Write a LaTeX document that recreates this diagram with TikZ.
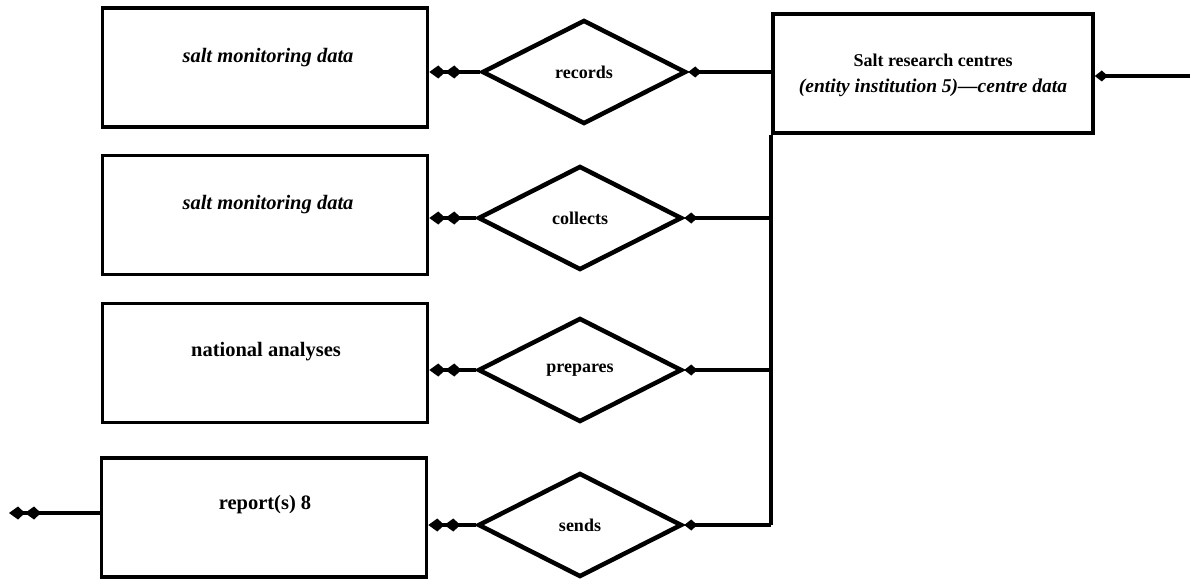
\documentclass[tikz,border=0pt]{standalone}
\usepackage{fontspec}
\setmainfont{Liberation Serif}
\usetikzlibrary{shapes.geometric,arrows.meta}
\begin{document}
\begin{tikzpicture}[x=1pt,y=-1pt,
  every node/.style={font=\fontsize{18}{21}\selectfont\bfseries},
  entbox/.style={draw, line width=3.6pt, minimum width=325pt, minimum height=119pt, inner sep=0pt},
  relbox/.style={draw, diamond, line width=4.5pt, minimum width=204pt, minimum height=104pt, inner sep=0pt},
  lbl/.style={inner sep=0pt},
  big/.style={font=\fontsize{20.5}{24}\selectfont\bfseries},
  bigit/.style={font=\fontsize{20.5}{24}\selectfont\bfseries\itshape},
  conn/.style={line width=4.2pt},
  dbl/.style={conn, -{Kite[length=16pt,width=13pt,inset=7pt] Kite[length=16pt,width=13pt,inset=7pt]}},
  sgl/.style={conn, -{Kite[length=13pt,width=11pt,inset=6pt]}}
]
\useasboundingbox (0,0) rectangle (1193,583);
% entity boxes
\node[entbox] (b1) at (265,67.5) {};
\node[entbox] (b2) at (265,215) {};
\node[entbox] (b3) at (265,363) {};
\node[entbox] (b4) at (264,517.5) {};
\node[lbl,bigit] (t1) at (268,58) {salt monitoring data};
\node[lbl,bigit] (t2) at (268,205) {salt monitoring data};
\node[lbl,big] (t3) at (266,352) {national analyses};
\node[lbl,big] (t4) at (265,505) {report(s) 8};
% salt research centres
\node[entbox, minimum width=320pt] (s) at (933,73.5) {};
\node[lbl] (st1) at (933,60) {Salt research centres};
\node[lbl,font=\fontsize{19.5}{23}\selectfont\bfseries\itshape] (st2) at (933,88) {(entity institution 5)---centre data};
% relationships
\node[relbox] (d1) at (584,72) {records};
\node[relbox] (d2) at (580,218) {collects};
\node[relbox] (d3) at (580,370) {prepares};
\node[relbox] (d4) at (580,525) {sends};
% connectors to entity boxes
\draw[dbl] (d1.west) -- (d1.west -| b1.east);
\draw[dbl] (d2.west) -- (d2.west -| b2.east);
\draw[dbl] (d3.west) -- (d3.west -| b3.east);
\draw[dbl] (d4.west) -- (d4.west -| b4.east);
% trunk from salt research centres
\draw[conn] (s.south west) -- (s.south west |- d4.east);
\draw[sgl] (d1.east -| s.west) -- (d1.east);
\draw[sgl] (d2.east -| s.west) -- (d2.east);
\draw[sgl] (d3.east -| s.west) -- (d3.east);
\draw[sgl] (d4.east -| s.west) -- (d4.east);
% input and output
\coordinate (in) at (1190,76);
\draw[sgl] (in) -- (in -| s.east);
\coordinate (out) at (9,513);
\draw[dbl] (b4.west |- out) -- (out);
\end{tikzpicture}
\end{document}
